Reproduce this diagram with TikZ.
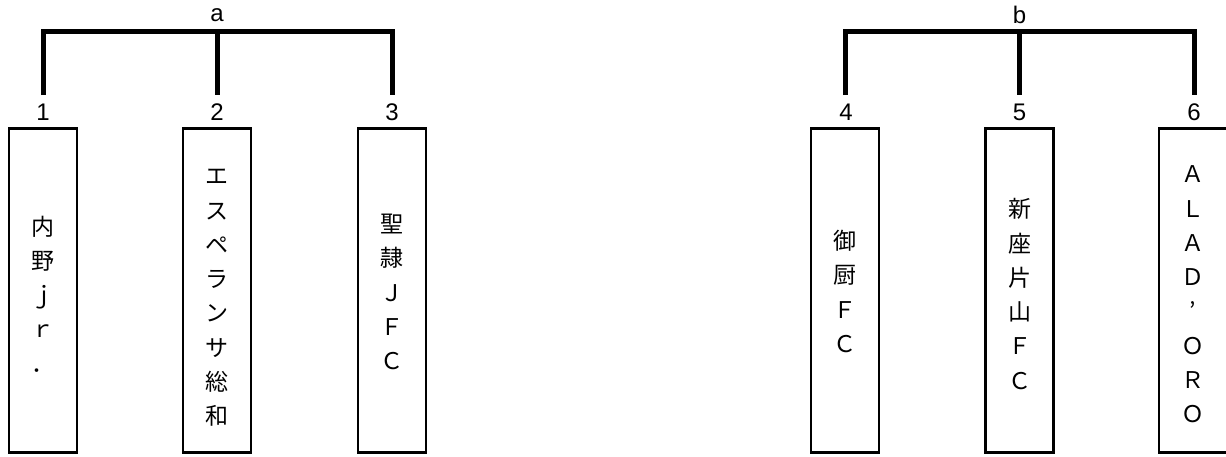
\documentclass[tikz,border=0pt]{standalone}
\usepackage{fontspec}
\setmainfont{Liberation Sans}
\newfontfamily\jpfont{Noto Sans CJK JP}
\begin{document}
\begin{tikzpicture}[x=1pt,y=-1pt,
  teambox/.style={draw, line width=2.8pt, minimum width=68pt, minimum height=324pt, inner sep=0pt},
  teamtext/.style={align=center, inner sep=0pt, font=\jpfont\fontsize{23}{34.3}\selectfont},
  numlabel/.style={inner sep=0pt, font=\fontsize{24}{24}\selectfont},
  bracket/.style={line width=5pt}]
\useasboundingbox (0,0) rectangle (1226,456);
% boxes
\node[teambox] (b1) at (43,290.5) {};
\node[teambox] (b2) at (217,290.5) {};
\node[teambox] (b3) at (392,290.5) {};
\node[teambox] (b4) at (845,290.5) {};
\node[teambox] (b5) at (1019.5,290.5) {};
\node[teambox] (b6) at (1193,290.5) {};
% texts
\node[teamtext] (t1) at (43,294) {内\\野\\ｊ\\ｒ\\．};
\node[teamtext] (t2) at (217,298) {エ\\ス\\ペ\\ラ\\ン\\サ\\総\\和};
\node[teamtext] (t3) at (392,292) {聖\\隷\\Ｊ\\Ｆ\\Ｃ};
\node[teamtext] (t4) at (845,291.5) {御\\厨\\Ｆ\\Ｃ};
\node[teamtext] (t5) at (1019.5,294) {新\\座\\片\\山\\Ｆ\\Ｃ};
\node[teamtext] (t6) at (1193,294.5) {Ａ\\Ｌ\\Ａ\\Ｄ\\’\\Ｏ\\Ｒ\\Ｏ};
% number labels
\node[numlabel] (n1) at (43,112) {1};
\node[numlabel] (n2) at (217,112) {2};
\node[numlabel] (n3) at (392,112) {3};
\node[numlabel] (n4) at (846,112) {4};
\node[numlabel] (n5) at (1019.5,112) {5};
\node[numlabel] (n6) at (1194,112) {6};
% group labels
\node[numlabel] (ga) at (217,15) {a};
\node[numlabel] (gb) at (1019.5,15) {b};
% bracket coordinates
\coordinate (c1) at (43,95);
\coordinate (c2) at (217,95);
\coordinate (c3) at (392,95);
\coordinate (c4) at (845,95);
\coordinate (c5) at (1019.5,95);
\coordinate (c6) at (1194,95);
\coordinate (ha) at (217,31);
\coordinate (hb) at (1019.5,31);
\draw[bracket] (c1) |- (ha) -| (c3);
\draw[bracket] (ha) -- (c2);
\draw[bracket] (c4) |- (hb) -| (c6);
\draw[bracket] (hb) -- (c5);
\end{tikzpicture}
\end{document}
